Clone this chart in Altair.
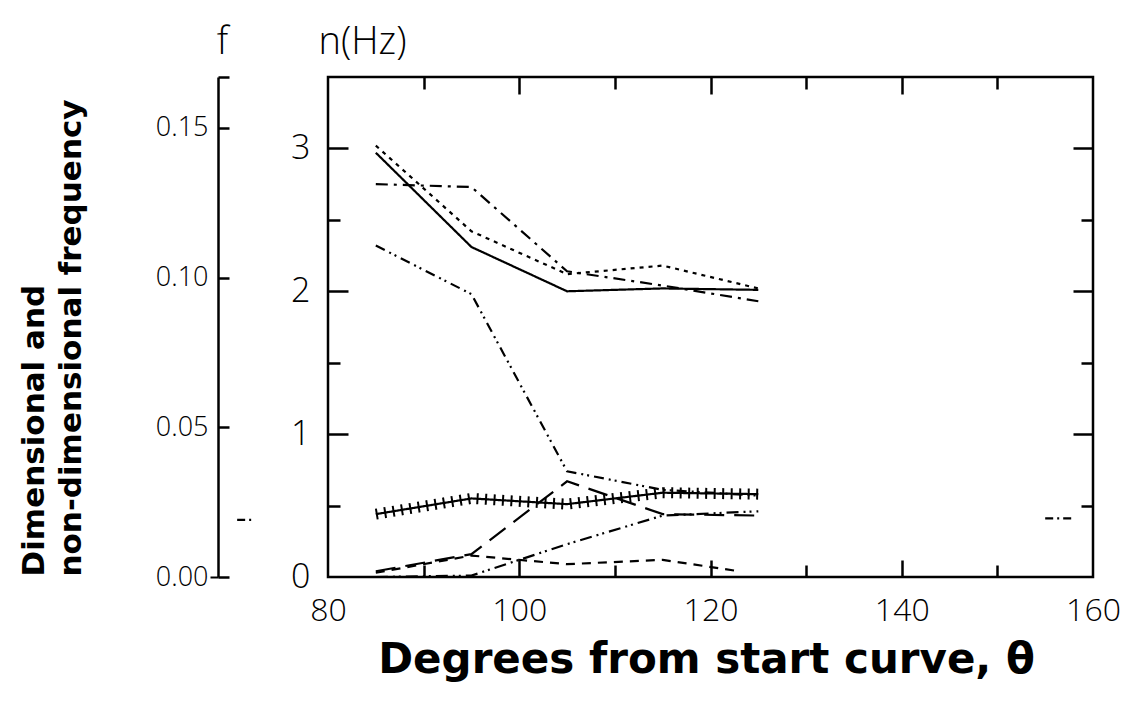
import altair as alt
import pandas as pd

# ---- data ----
theta = [85, 95, 105, 115, 125]
solid = [2.97, 2.31, 2.00, 2.02, 2.01]
dotted = [3.02, 2.42, 2.12, 2.18, 2.02]
dash_dot = [2.75, 2.73, 2.14, 2.04, 1.93]
dash_dot_dot_upper = [2.32, 1.98, 0.74, 0.61, 0.57]
crossed = [0.44, 0.55, 0.51, 0.59, 0.58]
long_dash = [0.04, 0.16, 0.67, 0.44, 0.43]
dash_dot_dot_lower = [0.00, 0.01, 0.23, 0.43, 0.46]
theta_short = [85, 95, 105, 115, 123]
short_dash = [0.03, 0.15, 0.09, 0.12, 0.04]
theta_frag_right = [155, 158]
frag_right = [0.41, 0.41]
theta_frag_left = [70.5, 72]
frag_left = [0.40, 0.40]

theta_labels = [80, 100, 120, 140, 160]
theta_ticks = [90, 100, 110, 120, 130, 140, 150]
n_labels = [0, 1, 2, 3]
n_ticks = [0.5, 1, 1.5, 2, 2.5, 3]
f_labels = [0.0, 0.05, 0.10, 0.15]
f_edge = [0.0, 0.05, 0.10, 0.15, 0.167]

series = [
    ("solid", theta, solid, [1, 0]),
    ("dotted", theta, dotted, [4, 5]),
    ("dash_dot", theta, dash_dot, [12, 6, 3, 6]),
    ("dash_dot_dot_upper", theta, dash_dot_dot_upper, [10, 5, 2, 4, 2, 5]),
    ("crossed", theta, crossed, [1, 0]),
    ("long_dash", theta, long_dash, [20, 10]),
    ("dash_dot_dot_lower", theta, dash_dot_dot_lower, [12, 5, 2, 4, 2, 5]),
    ("short_dash", theta_short, short_dash, [9, 7]),
    ("frag_right", theta_frag_right, frag_right, [8, 4, 2, 4]),
    ("frag_left", theta_frag_left, frag_left, [8, 4, 2, 4]),
]
rows = []
for name, xs, ys, _ in series:
    for a, b in zip(xs, ys):
        rows.append({"series": name, "theta": a, "n": b})
df = pd.DataFrame(rows)
df_crossed = df[df.series == "crossed"]
df_f = pd.DataFrame({"f": f_labels})

names = [s[0] for s in series]
dashes = [s[3] for s in series]

W, H = 765, 500
LABEL_FONT = "Open Sans"
xscale = alt.Scale(domain=[80, 160], nice=False, zero=False)
nscale = alt.Scale(domain=[0, 3.5], nice=False, zero=False)
fscale = alt.Scale(domain=[0, 0.167], nice=False, zero=False)

tick_common = dict(labels=False, domain=False, ticks=True, title=None,
                   tickColor="black", tickWidth=2.5, grid=False)

# Layer A: data lines, bottom labels + left n labels
lines = alt.Chart(df).mark_line(color="black", strokeWidth=2.2).encode(
    x=alt.X("theta:Q", scale=xscale,
            axis=alt.Axis(orient="bottom", values=theta_labels, ticks=False, domain=False,
                          labelFlush=False,
                          labelFont=LABEL_FONT, labelFontWeight=300, labelFontSize=32,
                          labelPadding=18, labelColor="black", grid=False,
                          title="Degrees from start curve, θ", titleFont="DejaVu Sans",
                          titleFontWeight="bold", titleFontSize=42, titleColor="black",
                          titleX=378, titleY=95, titleAlign="center",
                          titleBaseline="alphabetic")),
    y=alt.Y("n:Q", scale=nscale,
            axis=alt.Axis(orient="left", values=n_labels, ticks=False, domain=False,
                          labelFlush=False,
                          labelFont=LABEL_FONT, labelFontWeight=300, labelFontSize=34,
                          labelPadding=18, labelColor="black", grid=False,
                          title="n(Hz)", titleFont=LABEL_FONT, titleFontWeight=300,
                          titleFontSize=38, titleColor="black", titleAngle=0,
                          titleX=34, titleY=-24, titleAlign="center",
                          titleBaseline="alphabetic")),
    strokeDash=alt.StrokeDash("series:N", scale=alt.Scale(domain=names, range=dashes),
                              legend=None),
)

# Layer B: cross hatching on the crossed series; bottom-edge and left-edge inward ticks
hatch = alt.Chart(df_crossed).mark_line(color="black", strokeWidth=11, strokeDash=[2, 6.5],
                                        strokeCap="butt").encode(
    x=alt.X("theta:Q", scale=xscale,
            axis=alt.Axis(orient="top", offset=-H, values=theta_ticks,
                          tickSize={"condition": {"test": "datum.value % 20 === 0", "value": 17},
                                    "value": 12}, **tick_common)),
    y=alt.Y("n:Q", scale=nscale,
            axis=alt.Axis(orient="right", offset=-W, values=n_ticks,
                          tickSize={"condition": {"test": "datum.value % 1 === 0", "value": 20},
                                    "value": 12}, **tick_common)),
)

# Layer C: invisible; top-edge and right-edge inward ticks
edges = alt.Chart(df).mark_point(opacity=0).encode(
    x=alt.X("theta:Q", scale=xscale,
            axis=alt.Axis(orient="bottom", offset=-H, values=theta_ticks,
                          tickSize={"condition": {"test": "datum.value % 20 === 0", "value": 17},
                                    "value": 12}, **tick_common)),
    y=alt.Y("n:Q", scale=nscale,
            axis=alt.Axis(orient="left", offset=-W, values=n_ticks,
                          tickSize={"condition": {"test": "datum.value % 1 === 0", "value": 20},
                                    "value": 12}, **tick_common)),
)

# Layer D: f axis with labels and the main y title
f_axis = alt.Chart(df_f).mark_point(opacity=0).encode(
    y=alt.Y("f:Q", scale=fscale,
            axis=alt.Axis(orient="left", offset=110, values=f_labels, format=".2f",
                          labelFlush=False,
                          domain=True, domainColor="black", domainWidth=2.5,
                          ticks=True, tickSize=8, tickColor="black", tickWidth=2,
                          tickOpacity={"condition": {"test": "datum.value === 0", "value": 1},
                                       "value": 0},
                          labelFont=LABEL_FONT, labelFontWeight=300, labelFontSize=27,
                          labelPadding=2, labelColor="black", grid=False,
                          title=["Dimensional and", "non-dimensional frequency"],
                          titleFont="DejaVu Sans", titleFontWeight="bold", titleFontSize=31,
                          titleColor="black", titleAngle=270, titleAlign="left",
                          titleBaseline="alphabetic", titleLineHeight=37,
                          titleX=-175, titleY=499)),
)

# Layer E: f axis inward ticks + "f" title
f_ticks = alt.Chart(df_f).mark_point(opacity=0).encode(
    y=alt.Y("f:Q", scale=fscale,
            axis=alt.Axis(orient="right", offset=-(W + 110), values=f_edge,
                          labels=False, domain=False, ticks=True, tickSize=11,
                          tickColor="black", tickWidth=2.5, grid=False,
                          title="f", titleFont=LABEL_FONT, titleFontWeight=300,
                          titleFontSize=38, titleColor="black", titleAngle=0,
                          titleX=4, titleY=-24, titleAlign="center",
                          titleBaseline="alphabetic")),
)

chart = alt.layer(lines, hatch, edges, f_axis, f_ticks).resolve_scale(
    y="independent"
).resolve_axis(
    x="independent", y="independent"
).properties(
    width=W, height=H,
    padding={"left": 320, "top": 69, "right": 41, "bottom": 120},
    autosize=alt.AutoSizeParams(type="none"),
).configure_view(stroke="black", strokeWidth=2.5)

chart.save("out.html", embed_options={"renderer": "svg", "actions": False})
